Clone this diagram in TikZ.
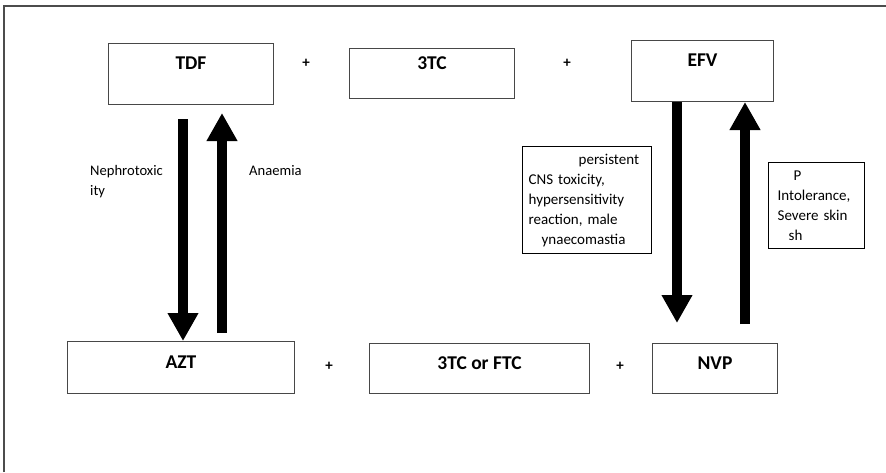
\documentclass[tikz,border=0pt]{standalone}
\usepackage{fontspec}
\setmainfont{Carlito}
\usetikzlibrary{arrows.meta}
\begin{document}
\begin{tikzpicture}[x=1pt,y=-1pt,
  drug/.style={draw=black!72, line width=1pt, anchor=north west, inner sep=0pt},
  dlabel/.style={anchor=center, inner sep=0pt, font=\bfseries\fontsize{19.5}{23}\selectfont},
  plus/.style={inner sep=0pt, font=\bfseries\fontsize{15}{18}\selectfont},
  small/.style={inner sep=0pt, font=\fontsize{14.6}{20}\selectfont},
  notebox/.style={draw=black, line width=1.3pt, anchor=north west, align=left, inner ysep=0pt, font=\fontsize{15}{20}\selectfont},
  bigarrow/.style={line width=10pt, -{Triangle[length=28pt 0 0, width=29pt 0 0]}},
  frame/.style={draw=black!70, line width=1.5pt}
]
\useasboundingbox (0,0) rectangle (886,472);
\draw[frame] (4,472) -- (4,6) -- (886,6);

% top row
\node[drug, minimum width=165pt, minimum height=61pt,
  label={[dlabel, yshift=-20pt]north:TDF}] (tdf) at (108,43) {};
\node[plus] (p1) at (306,63) {+};
\node[drug, minimum width=165pt, minimum height=50pt,
  label={[dlabel, yshift=-15pt]north:3TC}] (tc) at (349,48) {};
\node[plus] (p2) at (567,63) {+};
\node[drug, minimum width=142pt, minimum height=61pt,
  label={[dlabel, yshift=-20pt]north:EFV}] (efv) at (631,40) {};

% bottom row
\node[drug, minimum width=227pt, minimum height=52pt,
  label={[dlabel, yshift=-21pt]north:AZT}] (azt) at (67,341) {};
\node[plus] (p3) at (329,366) {+};
\node[drug, minimum width=220pt, minimum height=50pt,
  label={[dlabel, yshift=-20pt]north:3TC or FTC}] (ftc) at (369,343) {};
\node[plus] (p4) at (620,366) {+};
\node[drug, minimum width=125pt, minimum height=50pt,
  label={[dlabel, yshift=-20pt]north:NVP}] (nvp) at (652,343) {};

% left arrows
\coordinate (la) at (183,119);
\coordinate (lb) at (222,333);
\coordinate (lbe) at (222,113);
\draw[bigarrow] (la) -- (la |- azt.north);
\draw[bigarrow] (lb) -- (lbe);

% right arrows
\coordinate (ra) at (677,0);
\coordinate (rae) at (677,323);
\coordinate (rb) at (745,324);
\coordinate (rbx) at (745,0);
\draw[bigarrow] (ra |- efv.south) -- (rae);
\draw[bigarrow] (rb) -- (rbx |- efv.south);

% labels
\node[small, anchor=west, align=left] (neph) at (90,182) {Nephrotoxic\\ity};
\node[small, anchor=west] (anaem) at (249,171) {Anaemia};

\node[notebox, minimum width=129pt, minimum height=107pt, text width=117pt, inner xsep=6pt] (tox) at (522,146)
  {\hspace*{50pt}persistent\\CNS toxicity,\\hypersensitivity\\reaction, male\\\hspace*{13pt}ynaecomastia};
\node[notebox, minimum width=96pt, minimum height=86pt, text width=78pt, inner xsep=9pt] (pint) at (768,162)
  {\hspace*{16pt}P\\Intolerance,\\Severe skin\\\hspace*{11pt}sh};
\end{tikzpicture}
\end{document}
